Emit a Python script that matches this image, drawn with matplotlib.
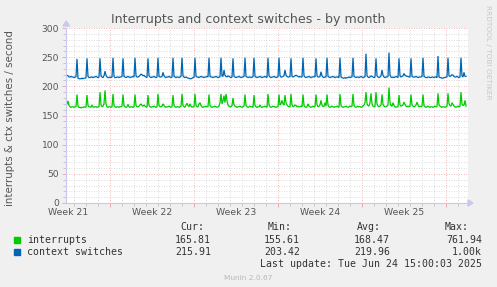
import numpy as np
import matplotlib
matplotlib.use("Agg")
import matplotlib.pyplot as plt
from matplotlib.ticker import MultipleLocator, FixedLocator, NullFormatter
from matplotlib.patches import Rectangle, Polygon

# ---------------- data (2-hour samples, days relative to start of Week 22) ----------------
t_start = -44 / 12.0   # first sample (days)
t_step = 1 / 12.0      # 2 hours

ctx_switches = [
    217, 219, 218, 216, 216, 217, 216, 216, 215, 216, 216, 247,
    214, 213, 213, 213, 214, 213, 214, 214, 215, 248, 217, 215,
    215, 216, 216, 215, 216, 216, 217, 216, 215, 216, 248, 218,
    216, 215, 218, 226, 219, 216, 215, 215, 216, 215, 216, 249,
    217, 215, 215, 216, 216, 215, 216, 216, 217, 248, 217, 216,
    215, 216, 217, 216, 215, 216, 216, 217, 216, 249, 218, 216,
    216, 217, 219, 221, 220, 218, 219, 217, 216, 215, 248, 218,
    216, 215, 216, 216, 217, 216, 215, 216, 249, 217, 216, 216,
    217, 224, 218, 216, 215, 216, 216, 217, 216, 215, 216, 249,
    217, 216, 215, 216, 216, 215, 216, 217, 249, 218, 216, 215,
    216, 215, 214, 214, 213, 213, 214, 215, 215, 249, 217, 216,
    216, 215, 216, 217, 216, 216, 215, 216, 216, 217, 216, 249,
    217, 216, 216, 215, 216, 216, 217, 216, 215, 216, 216, 249,
    218, 217, 228, 219, 217, 216, 218, 217, 216, 215, 216, 248,
    217, 216, 215, 216, 216, 217, 216, 215, 216, 216, 217, 249,
    217, 216, 215, 216, 216, 215, 216, 216, 249, 217, 216, 215,
    216, 216, 217, 216, 215, 216, 216, 217, 216, 215, 249, 218,
    216, 215, 216, 216, 217, 216, 215, 216, 216, 249, 218, 216,
    216, 217, 218, 228, 219, 217, 216, 216, 217, 248, 217, 216,
    217, 218, 219, 218, 217, 216, 217, 216, 216, 249, 218, 216,
    215, 216, 216, 217, 216, 215, 216, 216, 217, 216, 248, 218,
    216, 216, 217, 225, 218, 216, 215, 216, 216, 249, 217, 216,
    215, 216, 216, 217, 216, 215, 216, 216, 216, 215, 249, 216,
    215, 214, 214, 215, 214, 215, 215, 216, 215, 216, 216, 249,
    217, 216, 215, 216, 216, 215, 216, 217, 216, 215, 216, 216,
    256, 218, 216, 215, 216, 218, 217, 216, 215, 216, 248, 218,
    216, 215, 216, 218, 228, 219, 216, 215, 216, 216, 217, 258,
    219, 216, 215, 216, 215, 216, 217, 216, 215, 248, 218, 216,
    217, 218, 222, 219, 218, 217, 217, 216, 216, 248, 217, 216,
    216, 216, 217, 216, 215, 216, 216, 216, 217, 249, 217, 216,
    215, 215, 216, 216, 215, 215, 216, 216, 215, 216, 216, 215,
    252, 216, 215, 215, 214, 214, 215, 215, 216, 216, 249, 218,
    217, 218, 220, 219, 217, 216, 216, 217, 216, 215, 216, 249,
    218, 216, 224, 217, 217,
]

interrupts = [
    166, 170, 175, 167, 165, 164, 165, 165, 164, 165, 165, 186,
    166, 164, 164, 163, 164, 164, 165, 164, 165, 185, 167, 165,
    165, 164, 168, 165, 164, 165, 165, 164, 165, 165, 190, 168,
    165, 166, 170, 193, 170, 165, 164, 165, 165, 164, 165, 187,
    167, 165, 164, 165, 165, 164, 165, 165, 166, 186, 167, 165,
    164, 165, 169, 165, 164, 165, 165, 164, 165, 186, 167, 165,
    165, 166, 168, 170, 167, 166, 168, 166, 165, 164, 185, 167,
    165, 164, 165, 165, 166, 165, 164, 165, 187, 167, 165, 165,
    166, 170, 167, 165, 164, 165, 165, 166, 165, 164, 165, 185,
    167, 165, 164, 165, 165, 164, 165, 166, 187, 167, 165, 164,
    168, 171, 167, 165, 170, 166, 164, 165, 165, 187, 167, 165,
    165, 170, 172, 167, 165, 164, 165, 165, 166, 165, 165, 186,
    167, 165, 164, 165, 165, 166, 165, 164, 165, 166, 172, 187,
    170, 175, 184, 172, 187, 175, 168, 166, 165, 165, 167, 180,
    168, 166, 165, 164, 165, 165, 166, 165, 164, 165, 166, 186,
    167, 165, 164, 165, 166, 165, 165, 164, 185, 167, 165, 164,
    165, 165, 168, 165, 164, 165, 165, 166, 165, 164, 187, 168,
    165, 164, 165, 166, 165, 165, 164, 165, 165, 186, 168, 170,
    176, 170, 168, 185, 172, 168, 166, 165, 165, 187, 168, 165,
    166, 168, 167, 165, 166, 165, 165, 166, 165, 186, 167, 165,
    164, 165, 170, 166, 165, 164, 165, 166, 165, 165, 186, 168,
    165, 166, 168, 176, 168, 165, 166, 172, 166, 186, 168, 165,
    164, 165, 166, 165, 164, 165, 165, 166, 165, 164, 187, 167,
    165, 164, 165, 165, 166, 165, 164, 165, 166, 165, 166, 187,
    167, 165, 164, 165, 166, 165, 165, 164, 165, 166, 168, 172,
    190, 170, 167, 166, 172, 188, 170, 166, 165, 166, 190, 170,
    166, 165, 166, 168, 186, 169, 166, 165, 165, 166, 168, 198,
    172, 167, 166, 172, 167, 165, 164, 165, 165, 185, 168, 166,
    167, 168, 173, 169, 166, 165, 166, 165, 166, 186, 168, 166,
    165, 166, 168, 173, 168, 165, 166, 165, 166, 186, 167, 165,
    164, 165, 166, 165, 164, 165, 165, 164, 165, 166, 165, 165,
    188, 168, 166, 165, 164, 165, 165, 164, 165, 166, 188, 170,
    167, 166, 172, 169, 166, 165, 164, 165, 166, 165, 166, 190,
    170, 167, 168, 176, 166,
]

week_starts = [0, 7, 14, 21, 28]
week_labels = ["Week 21", "Week 22", "Week 23", "Week 24", "Week 25"]
week_label_pos = [-3.5, 3.5, 10.5, 17.5, 24.5]

series_names = ["interrupts", "context switches"]
series_colors = ["#00CC00", "#0066B3"]
stat_headers = ["Cur:", "Min:", "Avg:", "Max:"]
stats_irq = ["165.81", "155.61", "168.47", "761.94"]
stats_ctx = ["215.91", "203.42", "219.96", "1.00k"]

title = "Interrupts and context switches - by month"
ylabel = "interrupts & ctx switches / second"
last_update = "Last update: Tue Jun 24 15:00:03 2025"

# ---------------- figure ----------------
W, H = 497, 287
fig = plt.figure(figsize=(W / 100, H / 100), dpi=100, facecolor="#F0F0F0")

L, R, T, B = 66, 468, 28, 203
ax = fig.add_axes([L / W, 1 - B / H, (R - L) / W, (B - T) / H])
ax.set_facecolor("white")

t = t_start + t_step * np.arange(len(ctx_switches))
ax.plot(t, interrupts, color=series_colors[0], lw=0.9, solid_joinstyle="miter")
ax.plot(t, ctx_switches, color=series_colors[1], lw=0.9, solid_joinstyle="miter")

x_left = (L - 110) / 12.0
x_right = (R - 110) / 12.0
ax.set_xlim(x_left, x_right)
ax.set_ylim(0, 300)

# grid
ax.yaxis.set_major_locator(MultipleLocator(50))
ax.yaxis.set_minor_locator(MultipleLocator(10))
ax.xaxis.set_major_locator(FixedLocator(week_starts))
ax.xaxis.set_minor_locator(MultipleLocator(1))
ax.grid(which="minor", color="#D0D0D0", linestyle=(0, (1, 2)), lw=0.6)
ax.grid(which="major", color="#F0A0A0", linestyle=(0, (1, 2)), lw=0.6)
ax.set_axisbelow(True)

ax.set_yticks([0, 50, 100, 150, 200, 250, 300])
ax.set_yticklabels(["0", "50", "100", "150", "200", "250", "300"])
ax.tick_params(axis="y", which="major", labelsize=6.6, labelcolor="#555555",
               length=3, width=0.6, color="#F0A0A0", pad=2)
ax.tick_params(axis="y", which="minor", length=2, width=0.6, color="#C0C0C0")
ax.xaxis.set_major_formatter(NullFormatter())
ax.tick_params(axis="x", which="major", length=3, width=0.6, color="#F0A0A0")
ax.tick_params(axis="x", which="minor", length=2, width=0.6, color="#C0C0C0")

for s in ["top", "right"]:
    ax.spines[s].set_visible(False)
for s in ["left", "bottom"]:
    ax.spines[s].set_color("#C8C8F0")
    ax.spines[s].set_linewidth(0.8)


def fx(x):
    return x / W


def fy(y):
    return 1 - y / H


for lab, pos in zip(week_labels, week_label_pos):
    px = 110 + pos * 12.0
    fig.text(fx(px), fy(212.5), lab, ha="center", va="center", fontsize=6.7, color="#555555")

# axis arrows
fig.patches.append(Polygon([[fx(63), fy(26)], [fx(69.5), fy(26)], [fx(66.2), fy(21)]],
                           closed=True, transform=fig.transFigure, color="#C8C8F0"))
fig.patches.append(Polygon([[fx(468), fy(199.8)], [fx(468), fy(206.2)], [fx(473), fy(203)]],
                           closed=True, transform=fig.transFigure, color="#C8C8F0"))

fig.text(fx(248), fy(19), title, ha="center", va="center", fontsize=9.1, color="#555555")
fig.text(fx(10), fy(118), ylabel, ha="center", va="center", rotation=90,
         fontsize=7.4, color="#555555")
fig.text(fx(488), fy(5), "RRDTOOL / TOBI OETIKER", ha="center", va="top",
         rotation=270, fontsize=5.3, color="#C8C8C8")

mono = "DejaVu Sans Mono"
fs = 7.1
col_right = [204, 292, 381, 469]
val_right = [211, 300, 390, 482]
for h, xr in zip(stat_headers, col_right):
    fig.text(fx(xr), fy(227), h, ha="right", va="center", family=mono, fontsize=fs, color="#333333")

rows_y = [240, 252]
for name, color, vals, yy in zip(series_names, series_colors, [stats_irq, stats_ctx], rows_y):
    fig.patches.append(Rectangle((fx(14), fy(yy + 3)), 6 / W, 6 / H,
                                 transform=fig.transFigure, color=color))
    fig.text(fx(27), fy(yy), name, ha="left", va="center", family=mono, fontsize=fs, color="#333333")
    for v, xr in zip(vals, val_right):
        fig.text(fx(xr), fy(yy), v, ha="right", va="center", family=mono, fontsize=fs, color="#333333")

fig.text(fx(482), fy(264), last_update, ha="right", va="center", family=mono,
         fontsize=fs, color="#333333")
fig.text(fx(248), fy(278), "Munin 2.0.67", ha="center", va="center", fontsize=5.3, color="#B8B8B8")

fig.savefig("out.png", dpi=100, facecolor=fig.get_facecolor())
